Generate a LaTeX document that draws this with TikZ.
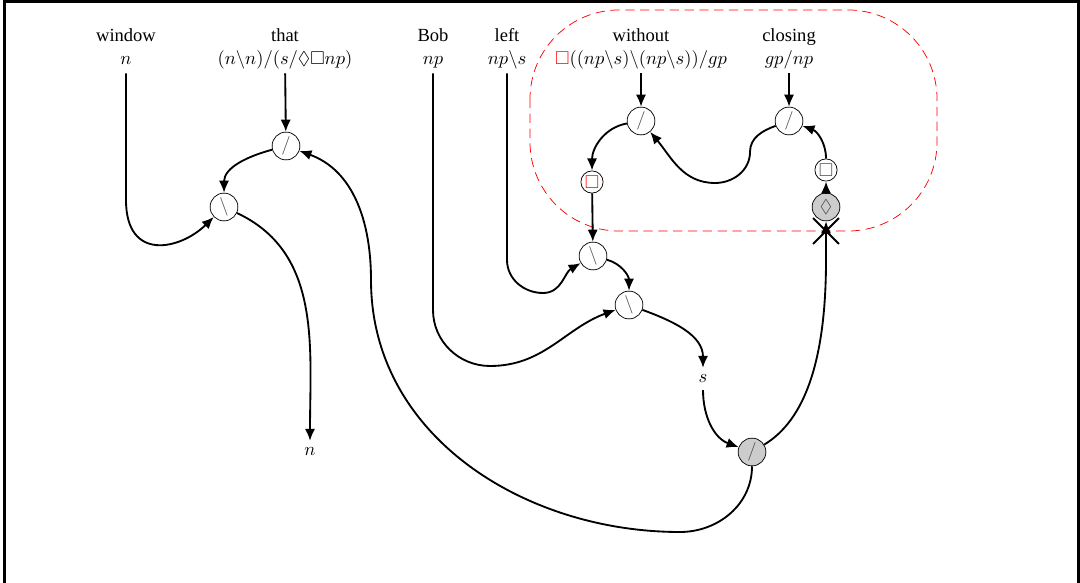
\documentclass[tikz,border=0pt]{standalone}
\usepackage{amssymb}
\usepackage[no-math]{fontspec}
\setmainfont{Liberation Serif}
\usetikzlibrary{arrows.meta,shapes.misc}

\begin{document}
\begin{tikzpicture}[x=0.54pt,y=0.54pt,->,>={Latex[length=6.5pt,width=5.5pt]},line width=1pt]
  \def\wy{540}
  \def\ty{517}

\tikzstyle{word}=[anchor=base,inner sep=0pt]
\tikzstyle{type}=[anchor=base,inner sep=1.5pt,text depth=2.5pt]
\tikzstyle{link}=[circle,draw,thin,fill=white,text=black!70,minimum size=15pt,inner sep=0pt]
\tikzstyle{unary}=[link,minimum size=12pt]
\tikzstyle{redex}=[link,fill=black!20]

\useasboundingbox (0,0) rectangle (1080,582);
\draw[-,line width=1.6pt] (4.5,-10) -- (4.5,580.5) -- (1078.5,580.5) -- (1078.5,-10);
\draw[-,thin,red,dash pattern=on 5pt off 3pt,rounded corners=48pt] (530,572) rectangle (937,351);

\node[word] (w1) at (126,\wy) {window};
\node[type] (t1) at (126,\ty) {$n$};
\node[word] (w2) at (285,\wy) {that};
\node[type] (t2) at (285,\ty) {$(n\backslash n)/(s/\Diamond\Box np)$};
\node[word] (w3) at (433,\wy) {Bob};
\node[type] (t3) at (433,\ty) {$np$};
\node[word] (w4) at (507,\wy) {left};
\node[type] (t4) at (507,\ty) {$np\backslash s$};
\node[word] (w5) at (641,\wy) {without};
\node[type] (t5) at (641,\ty) {$\textcolor{red}{\Box}((np\backslash s)\backslash(np\backslash s))/gp$};
\node[word] (w6) at (789,\wy) {closing};
\node[type] (t6) at (789,\ty) {$gp/np$};

\node[link] (L1) at (286,436) {$/$};
\draw (t2) -- (L1);
\node[link] (L2) at (224,375) {$\backslash$};
\draw (L1) to[out=195,in=90] (L2);
\draw (t1) -- (126,382) .. controls (126,320) and (180,332) .. (L2);
\node (out) at (310,130) {$n$};
\draw (L2) to[out=-25,in=90] (out);

\node[link] (W1) at (641,461) {$/$};
\draw (t5) -- (W1);
\node[unary] (W2) at (592,400) {\textcolor{red}{$\Box$}};
\draw (W1) to[out=190,in=90] (W2);
\node[link] (C1) at (789,461) {$/$};
\draw (t6) -- (C1);
\draw (C1) to[out=200,in=90] (750,430) to[out=-90,in=0] (715,399) to[out=180,in=-50] (W1);
\node[unary] (C2) at (826,412) {$\Box$};
\draw (C2) to[out=90,in=-20] (C1);
\node[redex] (C3) at (826,375) {$\Diamond$};
\draw (C3) -- (C2);
\node[draw,-,cross out,minimum size=13pt,inner sep=0pt] (X) at (826,351) {};

\node[link] (M1) at (593,326) {$\backslash$};
\draw (W2) -- (M1);
\draw (t4) -- (507,322) to[out=-90,in=180] (543,289) to[out=0,in=-150] (M1);
\node[link] (M2) at (629,277) {$\backslash$};
\draw (M1) to[out=-15,in=90] (M2);
\draw (t3) -- (433,272) to[out=-90,in=180] (490,216) to[out=0,in=-160] (M2);
\node (s) at (703,203) {$s$};
\draw (M2) to[out=-20,in=90] (s);
\node[redex] (G) at (752,130) {$/$};
\draw (s) to[out=-90,in=160] (G);
\draw (G) .. controls (805,162) and (826,222) .. (826,322) -- (C3);
\draw (G) to[out=-90,in=0] (680,50) to[out=180,in=-90] (371,302) to[out=90,in=-20] (L1);
\end{tikzpicture}
\end{document}
